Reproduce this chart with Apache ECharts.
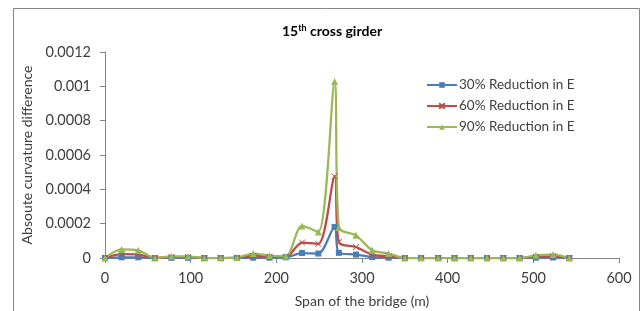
<html>
<head>
<meta http-equiv="Content-Type" content="text/html; charset=UTF-8">
<script type="text/javascript" src="https://cdn.jsdelivr.net/npm/echarts@6/dist/echarts.min.js"></script>
<style>
html,body{margin:0;padding:0;background:#fff;}
</style>
</head>
<body>
<div id="chart" style="width:643px;height:311px;"></div>
<script type="text/javascript">
// positions of the cross girders along the span (m)
var spans = [0, 19.4, 38.8, 58.2, 77.6, 97, 116, 135, 154, 173, 192, 211, 230, 249, 268, 273, 293, 312, 331, 350, 369, 389, 408, 427, 446, 465, 484, 503, 523, 542];
var red30 = [0, 0.000004, 0.000004, 0, 0.000001, 0.000001, 0, 0, 0, 0.000002, 0.000002, 0.000004, 0.000029, 0.000026, 0.000181, 0.00003, 0.00002, 0.000005, 0.000002, 0, 0, 0, 0, 0, 0, 0, 0, 0.000002, 0.000003, 0];
var red60 = [0, 0.000022, 0.00002, 0, 0.000005, 0.000005, 0, 0, 0.000002, 0.000012, 0.000007, 0.000006, 0.00009, 0.000082, 0.000475, 0.000093, 0.000064, 0.00002, 0.00001, 0, 0, 0, 0, 0, 0, 0, 0, 0.000008, 0.00001, 0];
var red90 = [0, 0.00005, 0.000045, 0, 0.00001, 0.00001, 0, 0, 0.000003, 0.000026, 0.000014, 0.00001, 0.000187, 0.000152, 0.001028, 0.000177, 0.000132, 0.000045, 0.000026, 0, 0, 0, 0, 0, 0, 0, 0, 0.000016, 0.00002, 0];
var seriesNames = ["30% Reduction in E", "60% Reduction in E", "90% Reduction in E"];

function pairs(ys){
  var out = [];
  for(var i=0;i<spans.length;i++){ out.push([spans[i], ys[i]]); }
  return out;
}

var font = "Lato";
var grey = "#868686";
var txt = "#404040";

var myChart = echarts.init(document.getElementById('chart'));
myChart.setOption({
  animation: false,
  textStyle: { fontFamily: font },
  graphic: [{
    type: "rect",
    shape: { x: 13.5, y: 8.5, width: 626, height: 320 },
    style: { fill: "none", stroke: grey, lineWidth: 1 },
    silent: true
  }],
  title: {
    text: "{a|15}{b|th}{a| cross girder}",
    left: 327, top: 19, textAlign: "center",
    textStyle: {
      rich: {
        a: { fontFamily: font, fontWeight: "bold", fontSize: 14, color: "#000" },
        b: { fontFamily: font, fontWeight: "bold", fontSize: 9, color: "#000", verticalAlign: "top", padding: [0,0,6,0] }
      }
    }
  },
  legend: {
    orient: "vertical",
    left: 421, top: 73,
    itemWidth: 30, itemHeight: 7, itemGap: 7,
    textStyle: { fontFamily: font, fontSize: 13.5, color: txt, padding: [0,0,0,-3] },
    data: seriesNames
  },
  grid: { left: 105, right: 24, top: 52, bottom: 53, outerBoundsMode: "none" },
  xAxis: {
    type: "value", min: 0, max: 600, interval: 100,
    name: "Span of the bridge (m)", nameLocation: "middle", nameGap: 36,
    nameTextStyle: { fontFamily: font, fontSize: 14, color: txt },
    axisLine: { show: true, lineStyle: { color: grey, width: 1 } },
    axisTick: { show: true, inside: false, length: 5, lineStyle: { color: grey } },
    axisLabel: { margin: 13, fontFamily: font, fontSize: 14.5, color: txt },
    splitLine: { show: false }
  },
  yAxis: {
    type: "value", min: 0, max: 0.0012, interval: 0.0002,
    name: "Absoute curvature difference", nameLocation: "middle", nameGap: 58,
    nameTextStyle: { fontFamily: font, fontSize: 14, color: txt },
    axisLine: { show: true, lineStyle: { color: grey, width: 1 } },
    axisTick: { show: true, inside: false, length: 5, lineStyle: { color: grey } },
    axisLabel: { margin: 14, fontFamily: font, fontSize: 14.5, color: txt },
    splitLine: { show: false }
  },
  series: [
    {
      name: seriesNames[0], type: "line", data: pairs(red30), smooth: 0.3,
      symbol: "rect", symbolSize: 6,
      lineStyle: { color: "#4a7ebb", width: 2.25 },
      itemStyle: { color: "#4a7ebb" }
    },
    {
      name: seriesNames[1], type: "line", data: pairs(red60), smooth: 0.3,
      symbol: "path://M0,0L10,10M10,0L0,10", symbolSize: 6,
      lineStyle: { color: "#be4b48", width: 2.25 },
      itemStyle: { color: "#be4b48", borderColor: "#be4b48", borderWidth: 1 }
    },
    {
      name: seriesNames[2], type: "line", data: pairs(red90), smooth: 0.3,
      symbol: "triangle", symbolSize: 7,
      lineStyle: { color: "#98b954", width: 2.25 },
      itemStyle: { color: "#98b954" }
    }
  ]
});
</script>
</body>
</html>
